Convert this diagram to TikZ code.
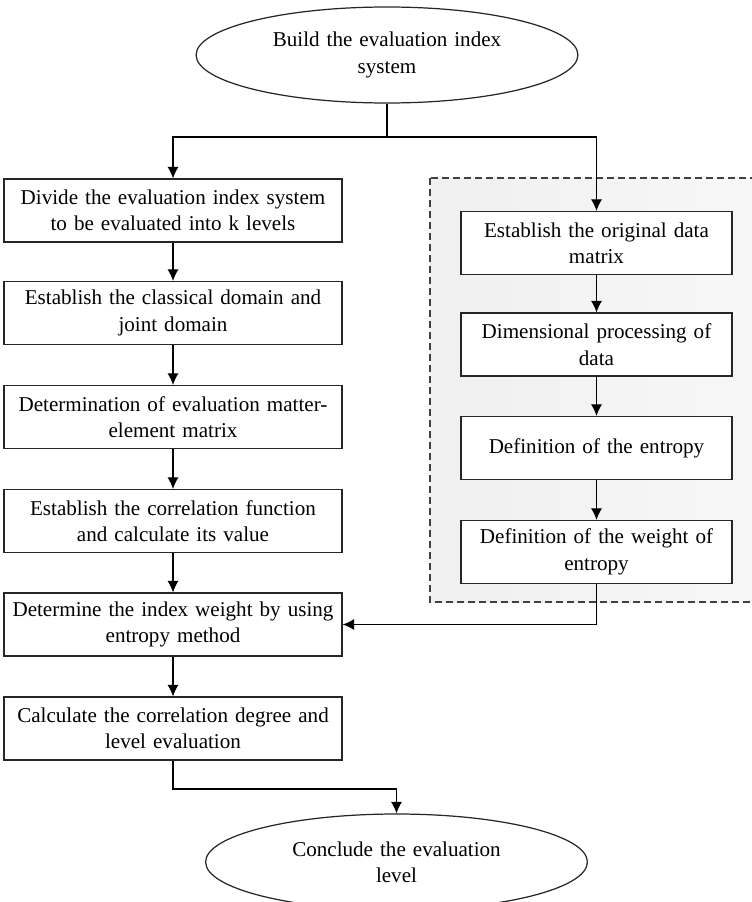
\documentclass[tikz,border=0pt]{standalone}
\usepackage{fontspec}
\setmainfont{Liberation Serif}
\usetikzlibrary{shapes.geometric,arrows.meta}
\tikzset{
    every node/.style={font=\fontsize{12}{15}\selectfont, align=center,
    	draw=black!85, line width=0.7pt}
}
\tikzset{
    box/.style={rectangle, minimum height=1.26cm, inner sep=2pt},
    lbox/.style={box, minimum width=6.76cm, text width=6.5cm},
    rbox/.style={box, minimum width=5.42cm, text width=5.2cm, fill=white},
    oval/.style={ellipse, minimum width=7.26cm, minimum height=1.92cm,
    	inner sep=0pt, text width=5.4cm}
}
\tikzset{
	every edge/.append style={line width=0.6pt}
}
\begin{document}
\begin{tikzpicture}[>={Latex[length=2.3mm,width=2.2mm]}, line width=0.6pt]
	\useasboundingbox (0,0) rectangle (15.04cm,-18.04cm);
	% shaded group on the right
	\draw[dash pattern=on 1.4mm off 0.8mm, black!75, shading=axis,
		left color=black!6, right color=black!3]
		(8.6cm,-3.56cm) rectangle (15.6cm,-12.04cm);

	\node (0) [oval] at (7.74cm, -1.10cm) {Build the evaluation index\\system};

	\node (1) [lbox] at (3.46cm, -4.21cm) {Divide the evaluation index system\\to be evaluated into k levels};
	\node (2) [lbox] at (3.46cm, -6.26cm) {Establish the classical domain and\\joint domain};
	\node (3) [lbox] at (3.46cm, -8.34cm) {Determination of evaluation matter-\\element matrix};
	\node (4) [lbox] at (3.46cm, -10.42cm) {Establish the correlation function\\and calculate its value};
	\node (5) [lbox] at (3.46cm, -12.49cm) {Determine the index weight by using\\entropy method};
	\node (6) [lbox] at (3.46cm, -14.57cm) {Calculate the correlation degree and\\level evaluation};

	\node (7) [rbox] at (11.93cm, -4.86cm) {Establish the original data\\matrix};
	\node (8) [rbox] at (11.93cm, -6.89cm) {Dimensional processing of\\data};
	\node (9) [rbox] at (11.93cm, -8.96cm) {Definition of the entropy};
	\node (10) [rbox] at (11.93cm, -11.04cm) {Definition of the weight of\\entropy};

	\node (11) [oval] at (7.93cm, -17.24cm) {Conclude the evaluation\\level};

	\coordinate (t) at (7.74cm, -2.74cm);
	\coordinate (b) at (7.93cm, -15.78cm);

	\draw (0) -- (t);
	\draw[->] (t) -| (1); \draw[->] (t) -| (7);
	\draw[->] (1) -- (2); \draw[->] (2) -- (3);
	\draw[->] (3) -- (4); \draw[->] (4) -- (5);
	\draw[->] (5) -- (6);
	\draw[->] (7) -- (8); \draw[->] (8) -- (9);
	\draw[->] (9) -- (10);
	\draw[->] (10) |- (5);
	\draw[->] (6) |- (b) -- (11);
\end{tikzpicture}
\end{document}
